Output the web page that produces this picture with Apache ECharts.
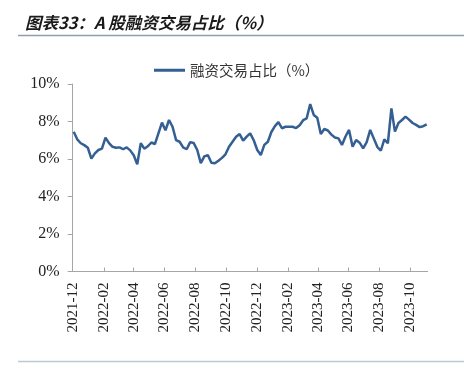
<!DOCTYPE html>
<html>
<head>
<meta charset="utf-8">
<script src="https://cdn.jsdelivr.net/npm/echarts@6/dist/echarts.min.js"></script>
<style>html,body{margin:0;padding:0;background:#fff;}#c{width:464px;height:371px;}</style>
</head>
<body>
<div id="c"></div>
<script>
var titleText = '图表33：A 股融资交易占比（%）';
var seriesName = '融资交易占比（%）';
var startDate = [2021, 12, 3]; // first weekly observation (Friday)
var values = [
  7.45, 7.05, 6.84, 6.74, 6.60, 6.02, 6.30, 6.48, 6.55, 7.14,
  6.85, 6.65, 6.60, 6.62, 6.52, 6.62, 6.46, 6.20, 5.72, 6.84,
  6.55, 6.68, 6.88, 6.80, 7.37, 7.94, 7.53, 8.08, 7.72, 7.01,
  6.92, 6.62, 6.52, 6.90, 6.85, 6.48, 5.78, 6.14, 6.21, 5.80,
  5.77, 5.91, 6.06, 6.25, 6.65, 6.92, 7.19, 7.33, 6.98, 7.19,
  7.37, 7.00, 6.48, 6.21, 6.75, 6.92, 7.44, 7.75, 7.97, 7.64,
  7.72, 7.72, 7.72, 7.65, 7.80, 8.07, 8.17, 8.93, 8.35, 8.20,
  7.33, 7.60, 7.52, 7.30, 7.15, 7.10, 6.75, 7.20, 7.55, 6.66,
  7.01, 6.87, 6.57, 6.90, 7.55, 7.10, 6.65, 6.44, 7.05, 6.84,
  8.70, 7.46, 7.92, 8.08, 8.26, 8.10, 7.92, 7.82, 7.70, 7.75,
  7.85
];
var tickMonths = ['2021-12','2022-02','2022-04','2022-06','2022-08','2022-10','2022-12','2023-02','2023-04','2023-06','2023-08','2023-10'];
var yTicks = [0, 2, 4, 6, 8, 10];

function ts(y, m, d) { return new Date(y, m - 1, d).getTime(); }
var data = values.map(function (v, i) {
  return [ts(startDate[0], startDate[1], startDate[2] + 7 * i), v];
});
var tickValues = tickMonths.map(function (s) {
  var p = s.split('-');
  return ts(+p[0], +p[1], 1);
});
function fmt(t) {
  var d = new Date(t);
  var m = d.getMonth() + 1;
  return d.getFullYear() + '-' + (m < 10 ? '0' + m : m);
}

var chart = echarts.init(document.getElementById('c'), null, {renderer: 'canvas'});
chart.setOption({
  animation: false,
  backgroundColor: '#fff',
  title: {
    text: titleText,
    left: 20, top: 9,
    textStyle: {fontFamily: 'Noto Sans CJK SC', fontSize: 16.5, fontWeight: 'bold', fontStyle: 'italic', color: '#1a1a1a'}
  },
  graphic: [
    {type: 'line', shape: {x1: 18, y1: 35.5, x2: 464, y2: 35.5}, style: {stroke: '#8c9fae', lineWidth: 1.5}},
    {type: 'line', shape: {x1: 18, y1: 361.5, x2: 464, y2: 361.5}, style: {stroke: '#b8cad8', lineWidth: 1.5}}
  ],
  legend: {
    left: 149, top: 58,
    itemWidth: 31, itemHeight: 3, itemGap: 6,
    textStyle: {fontFamily: 'Noto Sans CJK SC', fontSize: 14.5, color: '#333'},
    data: [{name: seriesName, icon: 'rect'}]
  },
  grid: {left: 72.7, right: 36.3, top: 84, bottom: 99.5, containLabel: false},
  xAxis: {
    type: 'value',
    min: ts(2021, 12, 1),
    max: ts(2023, 11, 5),
    axisLine: {lineStyle: {color: '#a6a6a6', width: 1}},
    axisTick: {show: true, inside: true, length: 4, customValues: tickValues, lineStyle: {color: '#a6a6a6'}},
    axisLabel: {
      customValues: tickValues,
      rotate: 90,
      margin: 11,
      formatter: function (v) { return fmt(v); },
      fontFamily: 'Liberation Serif', fontSize: 15, color: '#222'
    },
    splitLine: {show: false}
  },
  yAxis: {
    type: 'value',
    min: 0, max: 10, interval: 2,
    axisLine: {show: true, lineStyle: {color: '#a6a6a6', width: 1}},
    axisTick: {show: true, inside: false, length: 5, lineStyle: {color: '#a6a6a6'}},
    axisLabel: {formatter: '{value}%', fontFamily: 'Liberation Serif', fontSize: 16, color: '#222', margin: 13},
    splitLine: {show: false}
  },
  series: [{
    name: seriesName,
    type: 'line',
    data: data,
    symbol: 'none',
    lineStyle: {color: '#335f93', width: 2.5},
    itemStyle: {color: '#335f93'}
  }]
});
</script>
</body>
</html>
